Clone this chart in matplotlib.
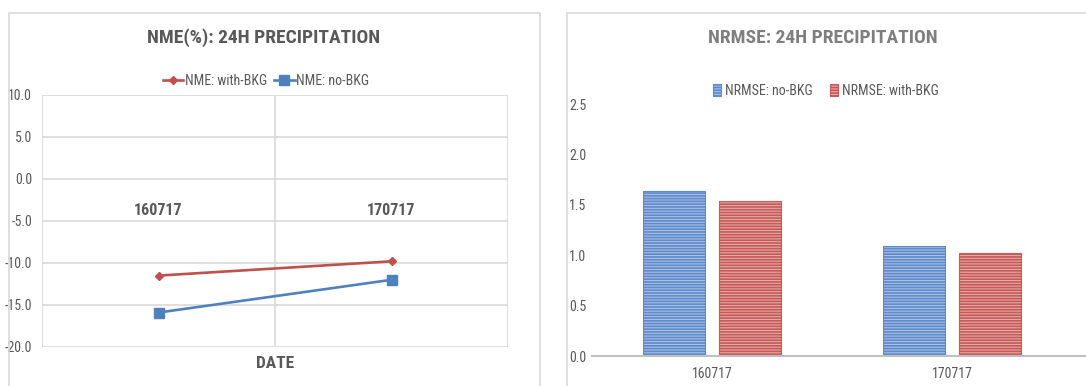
import matplotlib.pyplot as plt
from matplotlib import font_manager
from matplotlib.patches import Rectangle

# use a narrow face when one is installed
names = {f.name for f in font_manager.fontManager.ttflist}
narrow = [n for n in ['Liberation Sans Narrow', 'Roboto Condensed',
                      'Open Sans Condensed'] if n in names]
plt.rcParams['font.family'] = narrow + ['DejaVu Sans']
plt.rcParams['font.stretch'] = 'condensed'
plt.rcParams['hatch.linewidth'] = 1.2

# dates and scores
dates = ['160717', '170717']
nme_with_bkg = [-11.5, -9.8]
nme_no_bkg = [-15.9, -12.0]
nrmse_no_bkg = [1.64, 1.09]
nrmse_with_bkg = [1.54, 1.02]

RED = '#c0504d'
BLUE = '#4f81bd'
GREY = '#595959'
GRID = '#d9d9d9'

fig = plt.figure(figsize=(10.86, 3.86), dpi=100)

# light frames round the two charts
fig.patches.append(Rectangle((9 / 1086, -0.05), 531 / 1086, 1.05 - 13 / 386,
                             transform=fig.transFigure, fill=False,
                             edgecolor=GRID, linewidth=1.2))
fig.patches.append(Rectangle((567 / 1086, -0.05), 0.6, 1.05 - 13 / 386,
                             transform=fig.transFigure, fill=False,
                             edgecolor=GRID, linewidth=1.2))

# ---- NME line chart ----
ax1 = fig.add_axes([42 / 1086, 1 - 347 / 386, 466 / 1086, 252 / 386])
# category labels sit on the zero line
ax1.spines['bottom'].set_position(('data', 0))
x = list(range(len(dates)))
ax1.plot(x, nme_with_bkg, color=RED, linewidth=1.9, marker='D',
         markersize=4.5, label='NME: with-BKG')
ax1.plot(x, nme_no_bkg, color=BLUE, linewidth=1.9, marker='s',
         markersize=6.5, label='NME: no-BKG')
ax1.set_xlim(-0.5, 1.5)
ax1.set_ylim(-20, 10)
ax1.set_yticks(range(-20, 11, 5))
ax1.set_yticklabels([f'{v:.1f}' for v in range(-20, 11, 5)], fontsize=10,
                    color=GREY)
ax1.set_xticks(x)
ax1.set_xticklabels(dates, fontsize=11.5, color=GREY, fontweight='bold')
ax1.set_xticks([-0.5, 0.5, 1.5], minor=True)
ax1.grid(True, axis='y', color=GRID, linewidth=1.2)
ax1.grid(True, axis='x', which='minor', color=GRID, linewidth=1.2)
for s in ax1.spines.values():
    s.set_visible(False)
ax1.tick_params(axis='x', length=0, pad=17, which='both')
ax1.tick_params(axis='y', length=0, pad=7)
ax1.set_axisbelow(True)
fig.text(275 / 1086, 1 - 363 / 386, 'DATE', ha='center', va='center',
         fontsize=12.5, fontweight='bold', color=GREY)
fig.text(264 / 1086, 1 - 38 / 386, 'NME(%): 24H PRECIPITATION', ha='center',
         va='center', fontsize=14, fontweight='bold', color=GREY)
fig.legend(*ax1.get_legend_handles_labels(), loc='center',
           bbox_to_anchor=(266 / 1086, 1 - 81 / 386), ncol=2, frameon=False,
           fontsize=10, handlelength=1.5, handletextpad=0.1,
           columnspacing=0.5, labelcolor=GREY)

# ---- NRMSE bar chart ----
ax2 = fig.add_axes([592 / 1086, 1 - 356 / 386, 494 / 1086, 252 / 386])
w = 62 / 240
off = 38 / 240
ax2.bar([i - off for i in x], nrmse_no_bkg, width=w, facecolor='#a8bfe2',
        edgecolor='#5d8bcb', hatch='------', linewidth=0.8,
        label='NRMSE: no-BKG')
ax2.bar([i + off for i in x], nrmse_with_bkg, width=w, facecolor='#e3a9a8',
        edgecolor='#c75a58', hatch='------', linewidth=0.8,
        label='NRMSE: with-BKG')
ax2.set_xlim(-0.5, 1.558)
ax2.set_ylim(0, 2.5)
yt = [0, 0.5, 1.0, 1.5, 2.0, 2.5]
ax2.set_yticks(yt)
ax2.set_yticklabels([f'{v:.1f}' for v in yt], fontsize=10, color=GREY)
ax2.set_xticks(x)
ax2.set_xticklabels(dates, fontsize=10, color=GREY)
for name in ['top', 'right', 'left']:
    ax2.spines[name].set_visible(False)
ax2.spines['bottom'].set_color('#bfbfbf')
ax2.spines['bottom'].set_linewidth(1.5)
ax2.tick_params(axis='x', length=0, pad=8)
ax2.tick_params(axis='y', length=0, pad=4)
fig.text(823 / 1086, 1 - 38 / 386, 'NRMSE: 24H PRECIPITATION', ha='center',
         va='center', fontsize=14, fontweight='bold', color='#7f7f7f')
fig.legend(*ax2.get_legend_handles_labels(), loc='center',
           bbox_to_anchor=(826 / 1086, 1 - 91 / 386), ncol=2, frameon=False,
           fontsize=10, handlelength=0.6, handleheight=1.0,
           handletextpad=0.3, columnspacing=1.2, labelcolor=GREY)

fig.savefig('out.png', dpi=100)
